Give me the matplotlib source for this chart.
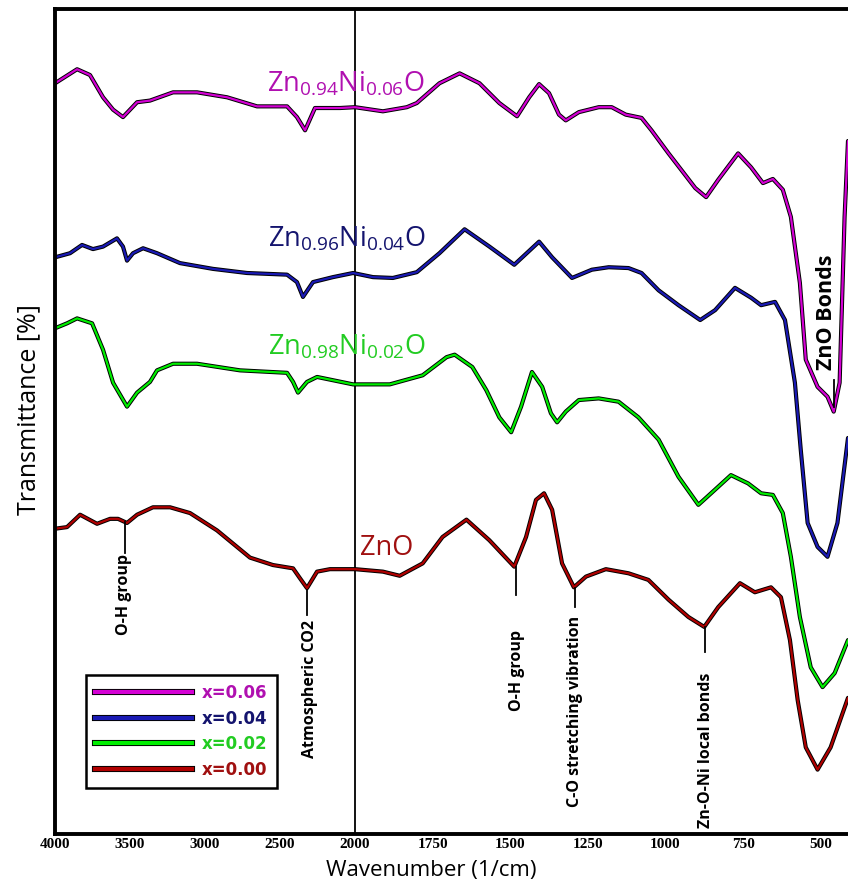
import numpy as np
import matplotlib
matplotlib.use("Agg")
import matplotlib.pyplot as plt
import matplotlib.patheffects as pe
from matplotlib.lines import Line2D

plt.rcParams['mathtext.fontset'] = 'custom'
plt.rcParams['mathtext.rm'] = 'Open Sans'
plt.rcParams['mathtext.it'] = 'Open Sans:italic'
plt.rcParams['mathtext.bf'] = 'Open Sans:bold'

# FTIR spectra, wavenumber (1/cm) vs transmittance (stacked, arbitrary %)
wn_006 = [4000, 3853, 3767, 3680, 3613, 3547, 3453, 3367, 3213, 3053, 2853, 2653,
          2453, 2387, 2333, 2267, 2100, 2000, 1910, 1833, 1801, 1728, 1663, 1599,
          1535, 1478, 1439, 1407, 1375, 1343, 1321, 1279, 1215, 1173, 1128, 1077,
          1045, 990, 949, 904, 869, 830, 766, 724, 686, 654, 622, 596, 567, 548,
          510, 478, 458, 439, 423, 412]
t_006 = [91.0, 92.7, 92.0, 89.3, 87.8, 86.9, 88.7, 88.9, 89.9, 89.9, 89.3, 88.2,
         88.2, 86.9, 85.3, 88.0, 88.0, 88.1, 87.6, 88.1, 88.6, 91.0, 92.2, 91.0,
         88.6, 87.0, 89.3, 90.9, 89.8, 87.2, 86.5, 87.5, 88.1, 88.1, 87.2, 86.8,
         85.3, 82.5, 80.5, 78.3, 77.2, 79.3, 82.5, 80.8, 78.9, 79.4, 78.1, 74.8,
         66.8, 57.5, 54.2, 53.0, 51.2, 54.7, 74.8, 84.0]

wn_004 = [4000, 3900, 3820, 3747, 3680, 3587, 3547, 3520, 3480, 3413, 3320, 3167,
          2947, 2720, 2453, 2387, 2347, 2280, 2147, 2013, 1942, 1878, 1801, 1728,
          1647, 1567, 1487, 1407, 1365, 1301, 1237, 1183, 1119, 1077, 1022, 958,
          888, 840, 776, 724, 692, 647, 615, 583, 564, 542, 510, 478, 446, 412]
t_004 = [69.9, 70.4, 71.4, 70.9, 71.2, 72.2, 71.2, 69.5, 70.4, 71.0, 70.4, 69.2,
         68.5, 68.0, 67.8, 66.9, 65.1, 66.9, 67.5, 68.0, 67.5, 67.4, 68.1, 70.4,
         73.3, 71.2, 69.0, 71.8, 69.9, 67.4, 68.4, 68.7, 68.6, 68.0, 65.9, 64.1,
         62.3, 63.5, 66.2, 65.0, 64.1, 64.5, 62.3, 54.7, 46.5, 37.7, 34.8, 33.6,
         37.7, 48.0]

wn_002 = [4000, 3920, 3853, 3753, 3680, 3613, 3520, 3453, 3367, 3320, 3213, 3053,
          2767, 2453, 2413, 2380, 2320, 2253, 2013, 1888, 1782, 1705, 1679, 1622,
          1577, 1535, 1497, 1465, 1430, 1397, 1369, 1349, 1321, 1279, 1215, 1151,
          1087, 1022, 958, 894, 853, 789, 734, 692, 654, 622, 596, 567, 532, 494,
          455, 412]
t_002 = [61.3, 61.9, 62.5, 61.9, 58.7, 54.7, 51.8, 53.5, 54.8, 56.2, 57.0, 57.0,
         56.2, 55.9, 54.8, 53.5, 54.8, 55.4, 54.5, 54.5, 55.6, 57.8, 58.1, 56.6,
         53.8, 50.5, 48.7, 51.8, 56.0, 54.2, 51.0, 49.9, 51.2, 52.6, 52.8, 52.4,
         50.5, 47.8, 43.3, 39.9, 41.3, 43.5, 42.5, 41.3, 41.1, 38.9, 33.6, 26.3,
         20.2, 17.8, 19.5, 23.5]

wn_000 = [4000, 3920, 3833, 3720, 3633, 3580, 3520, 3453, 3347, 3233, 3100, 2920,
          2700, 2547, 2413, 2367, 2320, 2253, 2167, 2000, 1910, 1856, 1782, 1718,
          1641, 1567, 1487, 1449, 1417, 1391, 1365, 1333, 1295, 1256, 1192, 1119,
          1055, 990, 926, 875, 830, 760, 712, 660, 628, 599, 574, 548, 510, 468,
          412]
t_000 = [37.0, 37.2, 38.7, 37.6, 38.2, 38.2, 37.7, 38.7, 39.6, 39.6, 38.9, 36.8,
         33.5, 32.6, 32.2, 31.0, 29.8, 31.8, 32.1, 32.1, 31.8, 31.3, 32.8, 36.0,
         38.1, 35.6, 32.4, 36.0, 40.5, 41.3, 39.3, 32.8, 29.9, 31.2, 32.1, 31.6,
         30.8, 28.4, 26.3, 25.1, 27.5, 30.4, 29.3, 29.9, 28.7, 23.5, 16.2, 10.5,
         7.8, 10.5, 16.5]

legend_labels = ['x=0.06', 'x=0.04', 'x=0.02', 'x=0.00']
sample_names = [r'Zn$_{0.94}$Ni$_{0.06}$O', r'Zn$_{0.96}$Ni$_{0.04}$O',
                r'Zn$_{0.98}$Ni$_{0.02}$O', 'ZnO']
ticks = [4000, 3500, 3000, 2500, 2000, 1750, 1500, 1250, 1000, 750, 500]

line_colors = ['#d400d4', '#1a1ab4', '#00ee00', '#b00000']
text_colors = ['#b010b0', '#14146e', '#22cc22', '#a01010']

series = [(wn_006, t_006), (wn_004, t_004), (wn_002, t_002), (wn_000, t_000)]

# band assignments: label, wavenumber, tick from/to, text position
bands = [
    ('O-H group', 3533, 37.8, 34.1, 3540, 29.0),
    ('Atmospheric CO2', 2320, 29.6, 26.6, 2300, 17.6),
    ('O-H group', 1480, 32.4, 29.0, 1478, 19.8),
    ('C-O stretching vibration', 1292, 29.8, 27.5, 1292, 14.8),
    ('Zn-O-Ni local bonds', 872, 25.1, 22.1, 869, 10.2),
]

# x axis is compressed above 2000 1/cm like the instrument output
K = 2.07


def fwd(x):
    x = np.asarray(x, dtype=float)
    return np.where(x >= 2000, x, 2000 - K * (2000 - x))


def inv(y):
    y = np.asarray(y, dtype=float)
    return np.where(y >= 2000, y, 2000 - (2000 - y) / K)


fig = plt.figure(figsize=(8.48, 8.93), dpi=100)
ax = fig.add_axes([0.0649, 0.0661, 0.9351, 0.9238])
ax.set_xscale('function', functions=(fwd, inv))

outline = [pe.Stroke(linewidth=3.0, foreground='black'), pe.Normal()]
for (wn, t), c in zip(series, line_colors):
    ax.plot(wn, t, color=c, lw=1.6, path_effects=outline,
            solid_joinstyle='round', solid_capstyle='round')

ax.axvline(2000, color='black', lw=1.3, zorder=1)

# sample names
name_pos = [(2060, 90.9), (2053, 72.1), (2053, 59.0), (1897, 34.7)]
for name, (x, y), c in zip(sample_names, name_pos, text_colors):
    ax.text(x, y, name, color=c, fontsize=19.5, family='Open Sans',
            ha='center', va='center')

for lab, x, y0, y1, tx, ty in bands:
    ax.plot([x, x], [y0, y1], color='black', lw=1.3)
    ax.text(tx, ty, lab, rotation=90, ha='center', va='center',
            fontsize=11.5, fontweight='bold', family='Open Sans')

ax.plot([458, 458], [51.8, 55.0], color='black', lw=1.3)
ax.text(481, 63.3, 'ZnO Bonds', rotation=90, ha='center', va='center',
        fontsize=15.5, fontweight='bold', family='Open Sans')

ax.set_xlim(4000, 412)
ax.set_ylim(0, 100)
ax.set_xticks(ticks)
ax.set_xticklabels([str(v) for v in ticks], fontsize=11, fontweight='bold',
                   family='Liberation Serif')
ax.tick_params(axis='x', length=0, pad=3)
ax.set_yticks([])

for s in ['left', 'top', 'bottom']:
    ax.spines[s].set_linewidth(2.8)
ax.spines['right'].set_visible(False)

ax.set_xlabel('Wavenumber (1/cm)', fontsize=16, family='Open Sans')
ax.xaxis.set_label_coords(0.475, -0.031)
ax.set_ylabel('Transmittance [%]', fontsize=18, family='Open Sans')
ax.yaxis.set_label_coords(-0.017, 0.515)

handles = [Line2D([], [], color=c, lw=3.0,
                  path_effects=[pe.Stroke(linewidth=4.4, foreground='black'), pe.Normal()])
           for c in line_colors]
leg = ax.legend(handles, legend_labels, loc='lower left', bbox_to_anchor=(0.039, 0.056),
                borderaxespad=0, frameon=True, fancybox=False, edgecolor='black',
                framealpha=1, handlelength=5.8, handletextpad=0.6, labelspacing=0.45,
                borderpad=0.55, prop=dict(family='DejaVu Sans', weight='bold', size=12))
leg.get_frame().set_linewidth(1.8)
for txt, c in zip(leg.get_texts(), text_colors):
    txt.set_color(c)

fig.savefig('out.png', dpi=100)
